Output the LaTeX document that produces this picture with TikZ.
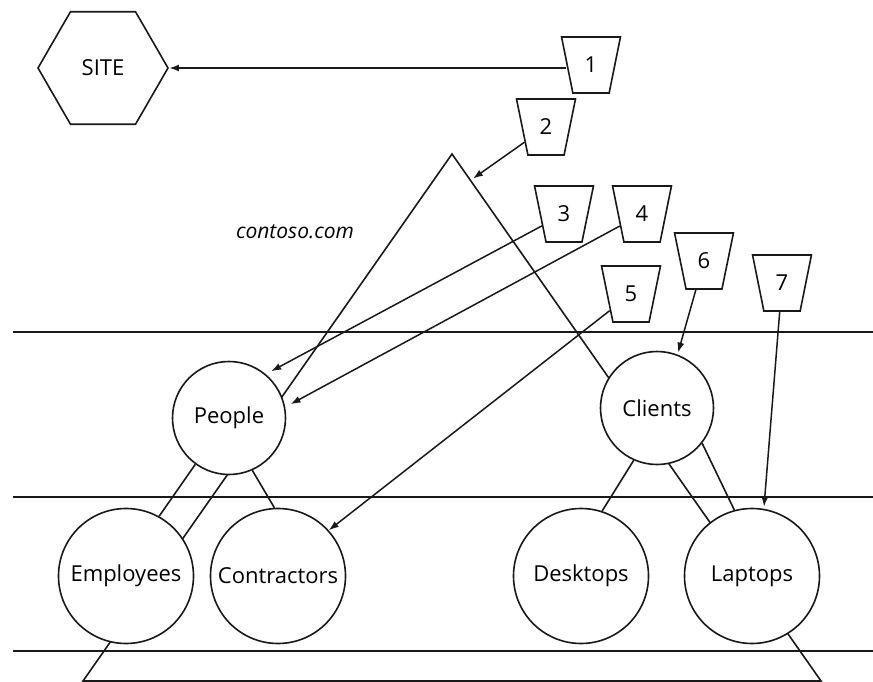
\documentclass[tikz,border=0pt]{standalone}
\usepackage{fontspec}
\setmainfont{Open Sans}
\usetikzlibrary{arrows.meta,shapes.geometric,calc}

\begin{document}
\begin{tikzpicture}[
  x=1pt, y=-1pt,
  line width=1.6pt, black!90,
  every node/.style={font=\fontsize{22}{26}\selectfont, text=black},
  ou/.style={circle, draw, fill=white, inner sep=0pt, minimum size=113pt},
  leaf/.style={circle, draw, fill=white, inner sep=0pt, minimum size=135pt},
  tag/.style={trapezium, draw, fill=white, trapezium stretches=true,
              trapezium angle=76, shape border rotate=180,
              minimum width=59pt, minimum height=56pt, inner sep=0pt},
  arrow/.style={-{Latex[length=10pt,width=7pt]}, line width=1.5pt}
]
\useasboundingbox (0,0) rectangle (873,682);

% layers
\draw (13,332) -- (873,332);
\draw (13,497) -- (873,497);
\draw (13,651) -- (873,651);

% domain triangle
\coordinate (apex) at (452,154);
\coordinate (bl) at (83,681);
\coordinate (br) at (821,681);
\draw (apex) -- (bl) -- (br) -- cycle;
\coordinate (hit) at ($(apex)!0.05!(br)$);

\node[regular polygon, regular polygon sides=6, draw, fill=white,
      minimum size=130pt, inner sep=0pt] (site) at (103,68) {SITE};
\node[font=\fontsize{21}{25}\selectfont\itshape] (domain) at (295,232) {contoso.com};

% OUs
\node[ou] (people) at (229,418) {People};
\node[ou] (clients) at (657,408) {Clients};
\node[leaf] (employees) at (126,576) {Employees};
\node[leaf] (contractors) at (278,576) {Contractors};
\node[leaf] (desktops) at (581,576) {Desktops};
\node[leaf] (laptops) at (752,576) {Laptops};

\draw (people.-126) -- (employees.61);
\draw (people.-66) -- (contractors.93);
\draw (clients.-114) -- (desktops.72);
\draw (clients.-38) -- (laptops.105);

% GPOs
\node[tag] (t1) at (591,65) {1};
\node[tag] (t2) at (546,127) {2};
\node[tag] (t3) at (564,214) {3};
\node[tag] (t4) at (642,214) {4};
\node[tag] (t5) at (631,294) {5};
\node[tag] (t6) at (704,261) {6};
\node[tag] (t7) at (782,283) {7};

\draw[arrow, line width=2.6pt] (site.east -| t1.west) -- (site.east);
\draw[arrow, shorten >=3pt] (t2) -- (hit);
\draw[arrow, shorten >=6pt] (t3) -- (people.50);
\draw[arrow, shorten >=6pt] (t4) -- (people.11);
\draw[arrow] (t5) -- (contractors.42);
\draw[arrow, shorten >=2pt] (t6) -- (clients.69);
\draw[arrow, shorten >=2pt] (t7) -- (laptops.80);
\end{tikzpicture}
\end{document}
